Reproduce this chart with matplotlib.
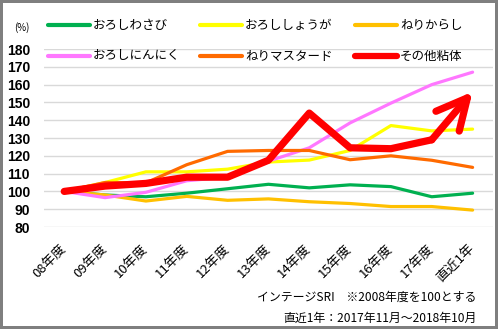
import numpy as np
import matplotlib.pyplot as plt
import matplotlib.transforms as mtransforms
from matplotlib.lines import Line2D

plt.rcParams['font.family'] = ['Noto Sans CJK JP', 'DejaVu Sans']

years = ['08年度', '09年度', '10年度', '11年度', '12年度', '13年度',
         '14年度', '15年度', '16年度', '17年度', '直近1年']

wasabi = [100, 98, 97, 99, 101.5, 104, 102, 103.7, 102.7, 97, 99]
shoga = [100, 105, 111, 111, 112.5, 116.5, 117.6, 123, 137, 134, 135]
karashi = [100, 98, 94.6, 97.2, 95, 95.8, 94.2, 93.2, 91.5, 91.5, 89.5]
ninniku = [100, 96.5, 99.5, 106, 108, 117, 124.5, 138.5, 149.6, 160, 167]
mustard = [100, 105, 104.8, 115, 122.5, 123, 123, 117.8, 120, 117.5, 113.5]
sonota = [100, 103, 104.5, 108, 108, 117.5, 144, 124.5, 124, 129, 156]

colors = {
    'おろしわさび': '#00B050',
    'おろししょうが': '#FFFF00',
    'ねりからし': '#FFC000',
    'おろしにんにく': '#FF77FF',
    'ねりマスタード': '#FF6A00',
    'その他粘体': '#FF0000',
}

W, H = 498, 329
fig = plt.figure(figsize=(W / 100, H / 100), dpi=100, edgecolor='#7f7f7f', linewidth=4)
ax = fig.add_axes([0.088, 0.310, 0.902, 0.541])

x = np.arange(len(years))
for name, vals in [('おろしわさび', wasabi), ('ねりからし', karashi),
                   ('おろししょうが', shoga), ('おろしにんにく', ninniku),
                   ('ねりマスタード', mustard)]:
    ax.plot(x, vals, color=colors[name], lw=2.3,
            solid_joinstyle='round', solid_capstyle='round', zorder=3)

# red line, last segment drawn as an arrow
ax.plot(x[:-1], sonota[:-1], color=colors['その他粘体'], lw=5.2,
        solid_joinstyle='round', solid_capstyle='round', zorder=4)
ax.annotate('', xy=(x[-1], sonota[-1]), xytext=(x[-2], sonota[-2]),
            arrowprops=dict(arrowstyle='->,head_length=1.1,head_width=0.55',
                            lw=5.2, color=colors['その他粘体'], shrinkA=0, shrinkB=0,
                            mutation_scale=20, capstyle='round', joinstyle='round'),
            zorder=4)

ax.set_xlim(-0.5, len(years) - 0.5)
ax.set_ylim(80, 180)
ax.set_yticks(np.arange(80, 181, 10))
ax.set_yticklabels([str(v) for v in range(80, 181, 10)],
                   fontfamily='Liberation Sans', fontweight='bold', fontsize=10)
ax.set_xticks(x)
ax.set_xticklabels(years, rotation=45, ha='right', va='center',
                   rotation_mode='anchor', fontsize=9.5)
shift = mtransforms.ScaledTranslation(0.04, -0.02, fig.dpi_scale_trans)
for lab in ax.get_xticklabels():
    lab.set_transform(lab.get_transform() + shift)
ax.tick_params(axis='both', length=0)
ax.tick_params(axis='y', pad=10)
ax.tick_params(axis='x', pad=14)
ax.grid(axis='y', color='#d9d9d9', lw=1)
ax.set_axisbelow(True)
for s in ax.spines.values():
    s.set_visible(False)

fig.text(0.028, 0.915, '(%)', fontsize=7, ha='left', va='center')

# legend, 2 rows x 3 columns, placed in pixel positions
legend_rows = [['おろしわさび', 'おろししょうが', 'ねりからし'],
               ['おろしにんにく', 'ねりマスタード', 'その他粘体']]
row_y = [25, 56]
col_x = [48, 200, 355]
for r, row in enumerate(legend_rows):
    yy = 1 - row_y[r] / H
    for c, name in enumerate(row):
        x0 = col_x[c] / W
        lw = 4.5 if name == 'その他粘体' else 3
        fig.add_artist(Line2D([x0, x0 + 42 / W], [yy, yy], color=colors[name],
                              lw=lw, solid_capstyle='round',
                              transform=fig.transFigure))
        fig.text(x0 + 45 / W, yy, name, fontsize=9, ha='left', va='center')

fig.text(0.957, 0.095, 'インテージSRI　※2008年度を100とする', fontsize=8.6,
         ha='right', va='center')
fig.text(0.957, 0.033, '直近1年：2017年11月～2018年10月', fontsize=8.6,
         ha='right', va='center')

fig.savefig('out.png', dpi=100, edgecolor=fig.get_edgecolor())
